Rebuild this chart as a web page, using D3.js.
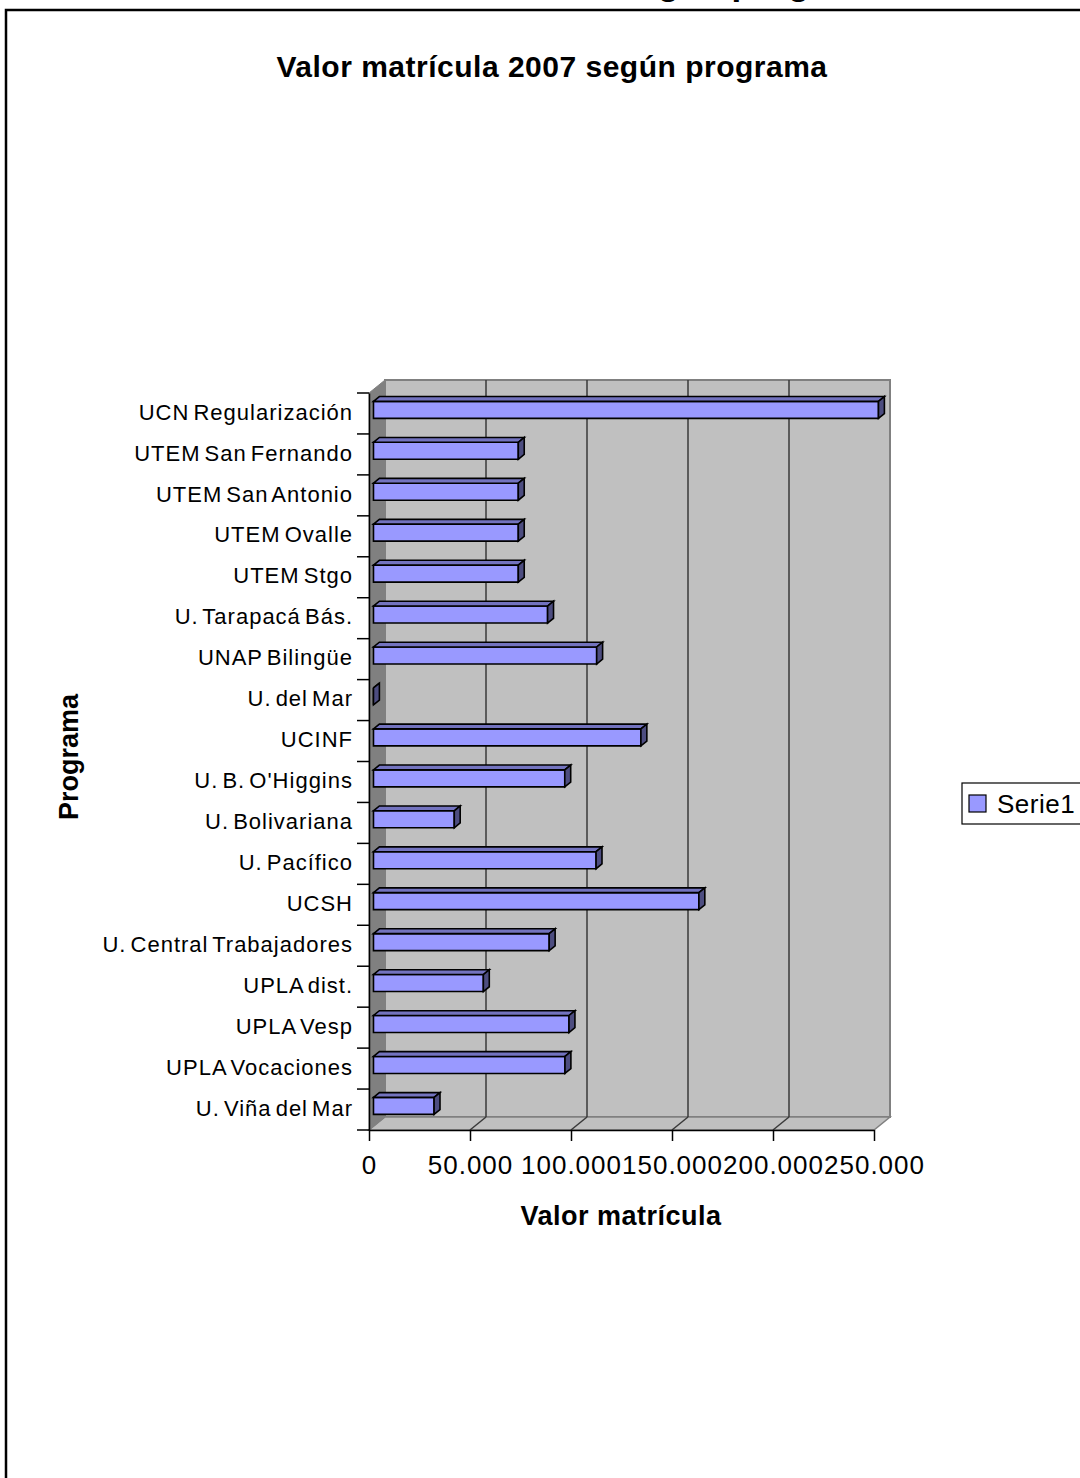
<!DOCTYPE html>
<html>
<head>
<meta charset="utf-8">
<script src="https://cdn.jsdelivr.net/npm/d3@7"></script>
<style>
    body { margin: 0; background: #fff; }
    svg { display: block; }
</style>
</head>
<body>
<svg id="chart"></svg>
<script>
/*
 3d-look horizontal bar chart: valor matrícula 2007 según programa
*/

// categories, top to bottom as drawn
const categories = [
    "UCN Regularización",
    "UTEM San Fernando",
    "UTEM San Antonio",
    "UTEM Ovalle",
    "UTEM Stgo",
    "U. Tarapacá Bás.",
    "UNAP Bilingüe",
    "U. del Mar",
    "UCINF",
    "U. B. O'Higgins",
    "U. Bolivariana",
    "U. Pacífico",
    "UCSH",
    "U. Central Trabajadores",
    "UPLA dist.",
    "UPLA Vesp",
    "UPLA Vocaciones",
    "U. Viña del Mar"
];

// Serie1 values (pesos)
const values = [
    250000, 71700, 71700, 71700, 71700, 86200, 110500, 0, 132400,
    94700, 40000, 110200, 161100, 87000, 54400, 96800, 94800, 30000
];

const xTicks = [0, 50000, 100000, 150000, 200000, 250000];
const seriesName = "Serie1";

const W = 1080, H = 1478;
const FONT = "'Liberation Sans', Arial, Helvetica, sans-serif";

var plot = { left: 369, right: 874, top: 393, bottom: 1130 };
var depth = { dx: 16, dy: -13 };   // offset from front plane to back wall
var barDepth = [0.28, 0.65];        // bar front / back, as fraction of depth
var barH = 17;

// project a point on the front plane back by fraction t of the depth
function p(x, y, t) {
    return [x + depth.dx * t, y + depth.dy * t];
}
function poly(pts) {
    return pts.map(d => d.join(",")).join(" ");
}

var locale = d3.formatLocale({ decimal: ",", thousands: ".", grouping: [3], currency: ["$", ""] });
var fmt = locale.format(",d");

const svg = d3.select("#chart")
    .attr("width", W)
    .attr("height", H)
    .attr("viewBox", `0 0 ${W} ${H}`)
    .attr("font-family", FONT);

var xscale = d3.scaleLinear()
    .domain([0, 250000])
    .range([plot.left, plot.right]);

var yscale = d3.scaleBand()
    .domain(categories)
    .range([plot.top, plot.bottom]);

// heading of the page above the frame (only its descenders show)
svg.append("text")
    .attr("x", 893)
    .attr("y", -5)
    .attr("text-anchor", "end")
    .attr("font-weight", "bold")
    .attr("font-size", 35)
    .text("Valor matrícula 2007 según programa");

// frame of the chart area
svg.append("path")
    .attr("d", `M6,${H} L6,10 L${W},10`)
    .attr("fill", "none")
    .attr("stroke", "#000")
    .attr("stroke-width", 2.5);

// title
svg.append("text")
    .attr("x", 552)
    .attr("y", 77)
    .attr("text-anchor", "middle")
    .attr("font-weight", "bold")
    .attr("font-size", 30)
    .attr("letter-spacing", 0.5)
    .text("Valor matrícula 2007 según programa");

// ---- walls ----
var walls = svg.append("g");
var bx0 = plot.left + depth.dx, bx1 = plot.right + depth.dx;
var by0 = plot.top + depth.dy, by1 = plot.bottom + depth.dy;

walls.append("rect")
    .attr("x", bx0).attr("y", by0)
    .attr("width", bx1 - bx0).attr("height", by1 - by0)
    .attr("fill", "#c0c0c0")
    .attr("stroke", "#808080")
    .attr("stroke-width", 2);

walls.append("polygon")
    .attr("points", poly([
        [plot.left, plot.bottom], [plot.right, plot.bottom],
        [bx1, by1], [bx0, by1]
    ]))
    .attr("fill", "#c0c0c0")
    .attr("stroke", "#808080")
    .attr("stroke-width", 1.5);

walls.append("polygon")
    .attr("points", poly([
        [plot.left, plot.top], [bx0, by0], [bx0, by1], [plot.left, plot.bottom]
    ]))
    .attr("fill", "#808080")
    .attr("stroke", "#808080")
    .attr("stroke-width", 1);

// gridlines on back wall and floor
var inner = xTicks.filter(v => v > 0 && v < 250000);
walls.append("g")
    .selectAll("line")
    .data(inner)
    .join("line")
    .attr("x1", d => xscale(d) + depth.dx)
    .attr("x2", d => xscale(d) + depth.dx)
    .attr("y1", by0)
    .attr("y2", by1)
    .attr("stroke", "#3a3a3a")
    .attr("stroke-width", 1.5);

walls.append("g")
    .selectAll("line")
    .data(inner)
    .join("line")
    .attr("x1", d => xscale(d))
    .attr("x2", d => xscale(d) + depth.dx)
    .attr("y1", plot.bottom)
    .attr("y2", by1)
    .attr("stroke", "#3a3a3a")
    .attr("stroke-width", 1.5);

// ---- bars ----
var t0 = barDepth[0], t1 = barDepth[1];
var bars = svg.append("g")
    .attr("stroke", "#000")
    .attr("stroke-width", 1.6)
    .attr("stroke-linejoin", "miter")
    .selectAll("g")
    .data(categories.map((c, i) => ({ name: c, value: values[i] })))
    .join("g");

function corners(d) {
    var yc = yscale(d.name) + yscale.bandwidth() / 2;
    return {
        x0: xscale(0), x1: xscale(d.value),
        top: yc - barH / 2, bot: yc + barH / 2
    };
}

bars.append("polygon")
    .attr("fill", "#9999ff")
    .attr("points", d => {
        var c = corners(d);
        return poly([p(c.x0, c.top, t0), p(c.x1, c.top, t0), p(c.x1, c.bot, t0), p(c.x0, c.bot, t0)]);
    });

bars.append("polygon")
    .attr("fill", "#7373bf")
    .attr("points", d => {
        var c = corners(d);
        return poly([p(c.x0, c.top, t0), p(c.x1, c.top, t0), p(c.x1, c.top, t1), p(c.x0, c.top, t1)]);
    });

bars.append("polygon")
    .attr("fill", "#4d4d80")
    .attr("points", d => {
        var c = corners(d);
        return poly([p(c.x1, c.top, t0), p(c.x1, c.top, t1), p(c.x1, c.bot, t1), p(c.x1, c.bot, t0)]);
    });

// ---- axes ----
var xAxis = svg.append("g")
    .attr("transform", `translate(0, ${plot.bottom})`)
    .call(
        d3.axisBottom(xscale)
            .tickValues(xTicks)
            .tickFormat(fmt)
            .tickSize(11)
            .tickSizeOuter(0)
            .tickPadding(15)
    );
xAxis.selectAll("line, path").attr("stroke", "#000").attr("stroke-width", 1.5);
xAxis.selectAll("text")
    .attr("font-family", FONT)
    .attr("font-size", 26)
    .attr("letter-spacing", 1)
    .attr("fill", "#000");

// category axis: ticks on band boundaries, labels in the middle
var yAxis = svg.append("g")
    .attr("transform", `translate(${plot.left}, 0)`)
    .call(
        d3.axisLeft(yscale)
            .tickSize(0)
            .tickPadding(16)
    );
yAxis.select(".domain").attr("stroke", "#000").attr("stroke-width", 1.5);
yAxis.selectAll("text")
    .attr("font-family", FONT)
    .attr("font-size", 22)
    .attr("letter-spacing", 1)
    .attr("word-spacing", -3)
    .attr("dy", "0.28em")
    .attr("fill", "#000");

yAxis.append("g")
    .selectAll("line")
    .data(categories.map(c => yscale(c)).concat([plot.bottom]))
    .join("line")
    .attr("x1", -12).attr("x2", 0)
    .attr("y1", d => d).attr("y2", d => d)
    .attr("stroke", "#000")
    .attr("stroke-width", 1.5);

// axis titles
svg.append("text")
    .attr("x", 621)
    .attr("y", 1225)
    .attr("text-anchor", "middle")
    .attr("font-weight", "bold")
    .attr("font-size", 27)
    .attr("letter-spacing", 0.5)
    .text("Valor matrícula");

svg.append("text")
    .attr("transform", "translate(78, 757) rotate(-90)")
    .attr("text-anchor", "middle")
    .attr("font-weight", "bold")
    .attr("font-size", 27)
    .text("Programa");

// ---- legend ----
var legend = svg.append("g");
legend.append("rect")
    .attr("x", 962).attr("y", 783)
    .attr("width", 140).attr("height", 41)
    .attr("fill", "#fff")
    .attr("stroke", "#000")
    .attr("stroke-width", 1.2);
legend.append("rect")
    .attr("x", 969).attr("y", 795)
    .attr("width", 17).attr("height", 17)
    .attr("fill", "#9999ff")
    .attr("stroke", "#000")
    .attr("stroke-width", 1.2);
legend.append("text")
    .attr("x", 997)
    .attr("y", 813)
    .attr("font-size", 26)
    .attr("letter-spacing", 0.5)
    .text(seriesName);
</script>
</body>
</html>
